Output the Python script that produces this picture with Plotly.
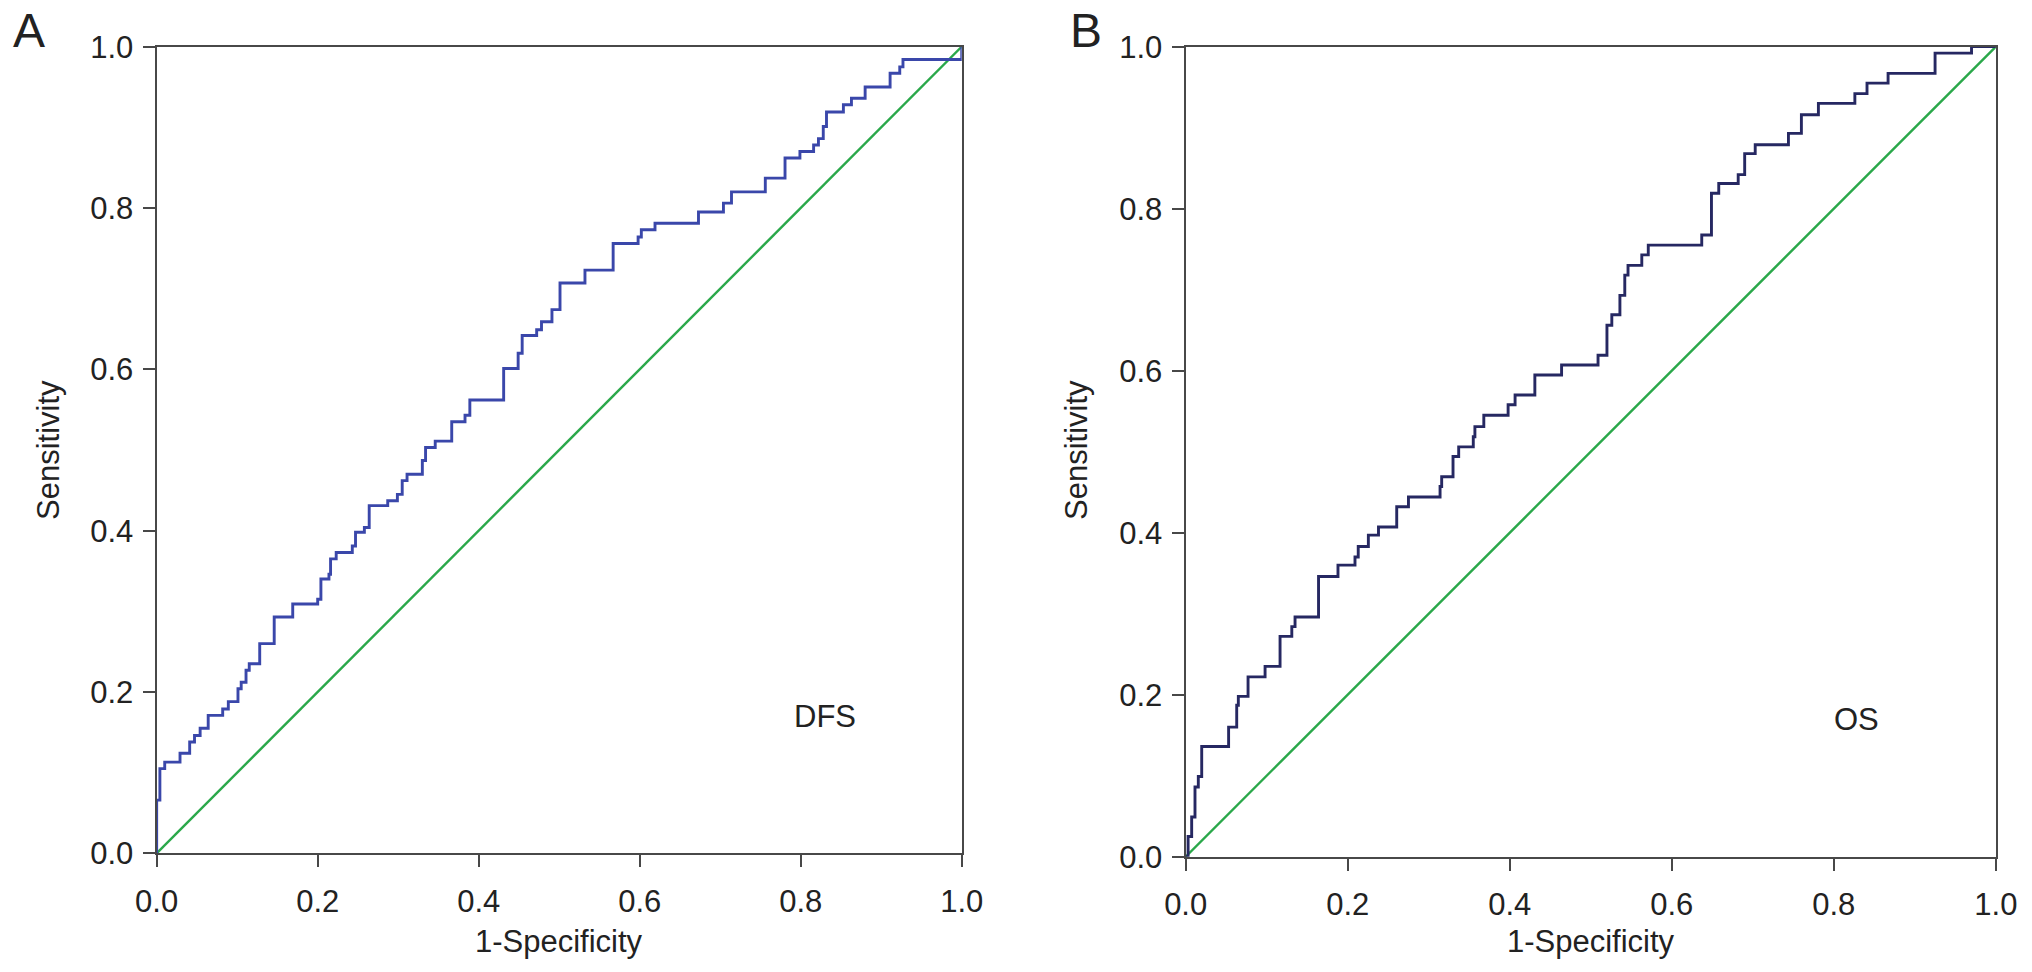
import plotly.graph_objects as go

# ROC curve A (DFS): 1-specificity / sensitivity at each step corner
fpr_dfs = [0, 0, 0.004, 0.010, 0.029, 0.041, 0.047, 0.054, 0.064, 0.082,
           0.089, 0.101, 0.105, 0.111, 0.115, 0.128, 0.146, 0.169, 0.200, 0.204,
           0.214, 0.216, 0.223, 0.243, 0.247, 0.258, 0.264, 0.287, 0.299, 0.305,
           0.311, 0.330, 0.334, 0.346, 0.3665, 0.383, 0.389, 0.431, 0.449, 0.454,
           0.472, 0.478, 0.491, 0.501, 0.532, 0.567, 0.598, 0.602, 0.619, 0.673,
           0.704, 0.714, 0.756, 0.7805, 0.799, 0.816, 0.822, 0.828, 0.832, 0.853,
           0.863, 0.880, 0.911, 0.923, 0.927, 1.0]
tpr_dfs = [0, 0.066, 0.105, 0.113, 0.124, 0.138, 0.146, 0.155, 0.171, 0.179,
           0.188, 0.204, 0.212, 0.227, 0.235, 0.260, 0.293, 0.309, 0.315, 0.340,
           0.346, 0.365, 0.373, 0.381, 0.398, 0.404, 0.431, 0.437, 0.445, 0.462,
           0.470, 0.487, 0.503, 0.511, 0.535, 0.543, 0.562, 0.601, 0.620, 0.642,
           0.649, 0.659, 0.674, 0.707, 0.723, 0.756, 0.764, 0.773, 0.781, 0.795,
           0.806, 0.820, 0.837, 0.862, 0.870, 0.878, 0.886, 0.901, 0.919, 0.928,
           0.936, 0.950, 0.967, 0.975, 0.984, 1.0]

# ROC curve B (OS)
fpr_os = [0, 0.003, 0.0074, 0.0115, 0.0156, 0.0198, 0.053, 0.063, 0.065, 0.077,
          0.098, 0.1165, 0.131, 0.135, 0.164, 0.188, 0.209, 0.213, 0.2255, 0.238,
          0.2605, 0.275, 0.314, 0.316, 0.330, 0.337, 0.355, 0.357, 0.368, 0.398,
          0.4066, 0.431, 0.464, 0.509, 0.520, 0.526, 0.536, 0.542, 0.546, 0.563,
          0.571, 0.637, 0.649, 0.658, 0.682, 0.690, 0.703, 0.744, 0.760, 0.781,
          0.826, 0.841, 0.867, 0.925, 0.970, 1.0]
tpr_os = [0, 0.025, 0.049, 0.086, 0.099, 0.136, 0.160, 0.187, 0.198, 0.222,
          0.235, 0.272, 0.284, 0.296, 0.346, 0.360, 0.370, 0.383, 0.397, 0.407,
          0.432, 0.444, 0.457, 0.469, 0.494, 0.506, 0.5185, 0.531, 0.545, 0.558,
          0.570, 0.5947, 0.607, 0.619, 0.656, 0.669, 0.693, 0.718, 0.730, 0.743,
          0.755, 0.7675, 0.819, 0.831, 0.842, 0.868, 0.879, 0.893, 0.916, 0.930,
          0.942, 0.955, 0.967, 0.992, 1.0, 1.0]

reference = [0, 1]
tick_vals = [0, 0.2, 0.4, 0.6, 0.8, 1.0]
tick_text = ["0.0", "0.2", "0.4", "0.6", "0.8", "1.0"]

FONT = "Liberation Sans, Arial, Helvetica, sans-serif"
AXIS_COLOR = "#484848"
TEXT_COLOR = "#222222"
GREEN = "#2aa84a"
W, H = 2032, 972

fig = go.Figure()

fig.add_trace(go.Scatter(x=reference, y=reference, mode="lines",
                         line=dict(color=GREEN, width=2.4),
                         xaxis="x", yaxis="y", showlegend=False))
fig.add_trace(go.Scatter(x=fpr_dfs, y=tpr_dfs, mode="lines",
                         line=dict(color="#3a47aa", width=2.9, shape="hv"),
                         xaxis="x", yaxis="y", showlegend=False))

fig.add_trace(go.Scatter(x=reference, y=reference, mode="lines",
                         line=dict(color=GREEN, width=2.4),
                         xaxis="x2", yaxis="y2", showlegend=False))
fig.add_trace(go.Scatter(x=fpr_os, y=tpr_os, mode="lines",
                         line=dict(color="#262862", width=2.9, shape="hv"),
                         xaxis="x2", yaxis="y2", showlegend=False))

axis_style = dict(
    range=[0, 1],
    showgrid=False,
    zeroline=False,
    showline=True,
    linecolor=AXIS_COLOR,
    linewidth=2.2,
    mirror=True,
    ticks="outside",
    ticklen=12,
    tickwidth=2,
    tickcolor=AXIS_COLOR,
    tickvals=tick_vals,
    ticktext=tick_text,
    tickfont=dict(family=FONT, size=31, color=TEXT_COLOR),
    automargin=False,
    fixedrange=True,
)
x_style = dict(axis_style, ticklabelstandoff=7)
y_style = dict(axis_style, ticklabelstandoff=3)

def label(text, px, py, size=31, angle=0):
    # text centred on a pixel position of the page
    return dict(text=text, x=px / W, y=1 - py / H, xref="paper", yref="paper",
                xanchor="center", yanchor="middle", showarrow=False,
                textangle=angle,
                font=dict(family=FONT, size=size, color=TEXT_COLOR))

fig.update_layout(
    width=W,
    height=H,
    margin=dict(l=0, r=0, t=0, b=0),
    paper_bgcolor="white",
    plot_bgcolor="white",
    xaxis=dict(x_style, domain=[0.0771, 0.4733], anchor="y"),
    yaxis=dict(y_style, domain=[0.1221, 0.952], anchor="x"),
    xaxis2=dict(x_style, domain=[0.5835, 0.9822], anchor="y2"),
    yaxis2=dict(y_style, domain=[0.1186, 0.952], anchor="x2"),
    annotations=[
        label("A", 29, 31, size=48),
        label("B", 1086, 31, size=48),
        label("1-Specificity", 559, 941),
        label("1-Specificity", 1591, 941),
        label("Sensitivity", 48, 450, angle=-90),
        label("Sensitivity", 1076, 450, angle=-90),
        dict(text="DFS", x=0.83, y=0.17, xref="x", yref="y", showarrow=False,
             xanchor="center", yanchor="middle",
             font=dict(family=FONT, size=31, color=TEXT_COLOR)),
        dict(text="OS", x=0.828, y=0.17, xref="x2", yref="y2", showarrow=False,
             xanchor="center", yanchor="middle",
             font=dict(family=FONT, size=31, color=TEXT_COLOR)),
    ],
)

fig.write_html("out.html", config={"displayModeBar": False},
               post_script="document.body.style.margin = '0';")
